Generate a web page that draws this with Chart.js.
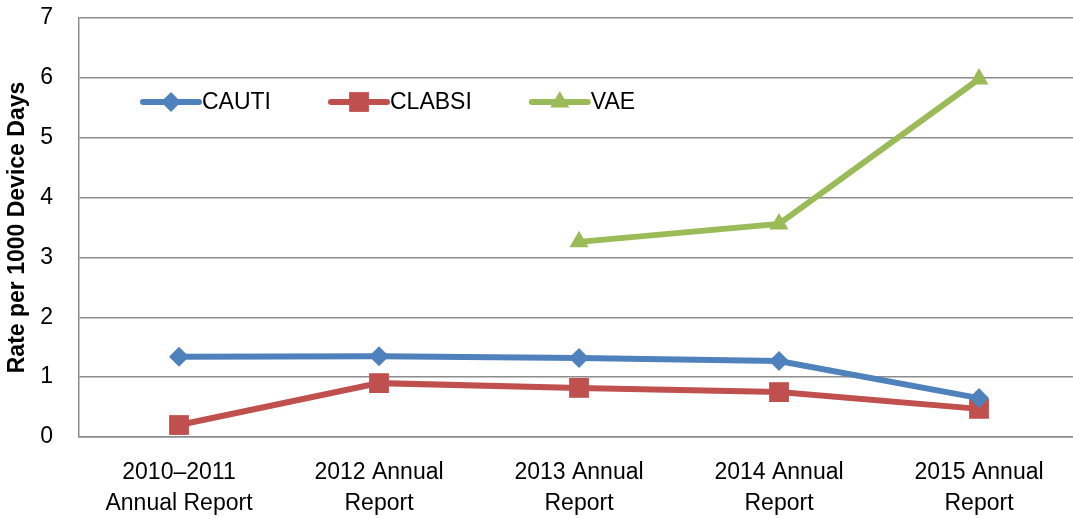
<!DOCTYPE html>
<html>
<head>
<meta charset="utf-8">
<script src="https://cdn.jsdelivr.net/npm/chart.js@4/dist/chart.umd.min.js"></script>
<style>
  html, body { margin: 0; padding: 0; background: #fff; overflow: hidden; }
  #wrap { width: 1073px; height: 519px; overflow: hidden; }
</style>
</head>
<body>
<div id="wrap"><canvas id="chart" width="1093" height="519"></canvas></div>
<script>
// data
const categories = [["2010\u20132011", "Annual Report"], ["2012 Annual", "Report"], ["2013 Annual", "Report"], ["2014 Annual", "Report"], ["2015 Annual", "Report"]]
const cauti = [1.34, 1.35, 1.32, 1.27, 0.65]
const clabsi = [0.20, 0.90, 0.82, 0.75, 0.47]
const vae = [null, null, 3.26, 3.56, 5.98]
const yTicks = [0, 1, 2, 3, 4, 5, 6, 7]

const FONT = "'Liberation Sans', Arial, sans-serif"

// legend drawn inside the plot, like the Excel one
const insideLegend = {
    id: "insideLegend",
    afterDraw(chart) {
        const ctx = chart.ctx
        let x = 143
        const y = 102
        ctx.save()
        ctx.font = "23px " + FONT
        ctx.textBaseline = "middle"
        chart.data.datasets.forEach(ds => {
            ctx.strokeStyle = ds.borderColor
            ctx.lineWidth = 6
            ctx.lineCap = "round"
            ctx.beginPath()
            ctx.moveTo(x, y)
            ctx.lineTo(x + 56, y)
            ctx.stroke()
            ctx.fillStyle = ds.pointBackgroundColor
            Chart.helpers.drawPoint(ctx, {pointStyle: ds.pointStyle, radius: ds.pointRadius, rotation: 0, borderWidth: 0}, x + 28, y)
            ctx.fillStyle = "#000"
            ctx.fillText(ds.label, x + 59, y + 1)
            x += 59 + ctx.measureText(ds.label).width + 60
        })
        ctx.restore()
    }
}

function makeSet(label, values, color, style, radius){
    return {
        label: label,
        data: values,
        borderColor: color,
        backgroundColor: color,
        pointBackgroundColor: color,
        pointBorderWidth: 0,
        borderWidth: 6,
        pointStyle: style,
        pointRadius: radius,
        pointHoverRadius: radius,
        tension: 0
    }
}

new Chart(document.getElementById("chart"), {
    type: "line",
    data: {
        labels: categories,
        datasets: [
            makeSet("CAUTI", cauti, "#4F81BD", "rectRot", 10),
            makeSet("CLABSI", clabsi, "#C0504D", "rect", 14),
            makeSet("VAE", vae, "#9BBB59", "triangle", 11)
        ]
    },
    options: {
        responsive: false,
        animation: false,
        layout: { padding: { top: 18, right: 0, left: 0, bottom: 0 } },
        plugins: { legend: { display: false }, tooltip: { enabled: false } },
        scales: {
            x: {
                offset: true,
                afterFit: s => { s.height = 82 },
                grid: { display: false, drawTicks: false },
                border: { color: "#8c8c8c", width: 1.5 },
                ticks: { color: "#000", font: { family: FONT, size: 23, lineHeight: 1.35 }, padding: 20, maxRotation: 0, autoSkip: false }
            },
            y: {
                min: 0,
                max: 7,
                afterBuildTicks: s => { s.ticks = yTicks.map(v => ({value: v})) },
                afterFit: s => { s.width = 79 },
                // invisible tick marks make the gap between the labels and the axis
                grid: { color: "#8c8c8c", lineWidth: 1.5, drawTicks: true, tickLength: 26, tickColor: "rgba(0,0,0,0)" },
                border: { color: "#8c8c8c", width: 1.5 },
                ticks: { color: "#000", font: { family: FONT, size: 23 }, padding: 0 },
                title: { display: true, text: "Rate per 1000 Device Days", color: "#000", font: { family: FONT, size: 23, weight: "bold" }, padding: { top: 4, bottom: 0 } }
            }
        }
    },
    plugins: [insideLegend]
})
</script>
</body>
</html>
